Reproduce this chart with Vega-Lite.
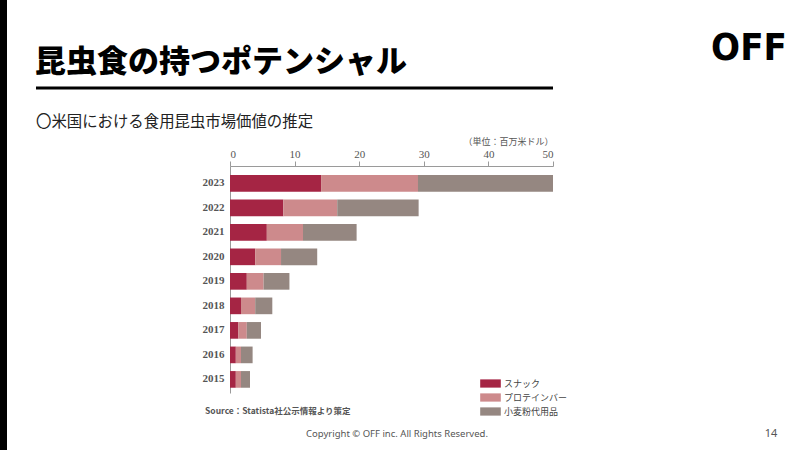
{
  "$schema": "https://vega.github.io/schema/vega-lite/v6.json",
  "autosize": {"type": "none"},
  "width": 323,
  "height": 227,
  "padding": {"left": 230, "top": 166, "right": 247, "bottom": 57},
  "background": "white",
  "config": {"view": {"stroke": null}},
  "layer": [
    {
      "data": {
        "values": [
          {"year": "2023", "category": "スナック", "value": 14.1},
          {"year": "2023", "category": "プロテインバー", "value": 15.0},
          {"year": "2023", "category": "小麦粉代用品", "value": 20.9},
          {"year": "2022", "category": "スナック", "value": 8.25},
          {"year": "2022", "category": "プロテインバー", "value": 8.35},
          {"year": "2022", "category": "小麦粉代用品", "value": 12.6},
          {"year": "2021", "category": "スナック", "value": 5.7},
          {"year": "2021", "category": "プロテインバー", "value": 5.6},
          {"year": "2021", "category": "小麦粉代用品", "value": 8.3},
          {"year": "2020", "category": "スナック", "value": 3.9},
          {"year": "2020", "category": "プロテインバー", "value": 4.0},
          {"year": "2020", "category": "小麦粉代用品", "value": 5.6},
          {"year": "2019", "category": "スナック", "value": 2.6},
          {"year": "2019", "category": "プロテインバー", "value": 2.6},
          {"year": "2019", "category": "小麦粉代用品", "value": 4.0},
          {"year": "2018", "category": "スナック", "value": 1.7},
          {"year": "2018", "category": "プロテインバー", "value": 2.2},
          {"year": "2018", "category": "小麦粉代用品", "value": 2.65},
          {"year": "2017", "category": "スナック", "value": 1.3},
          {"year": "2017", "category": "プロテインバー", "value": 1.3},
          {"year": "2017", "category": "小麦粉代用品", "value": 2.2},
          {"year": "2016", "category": "スナック", "value": 0.9},
          {"year": "2016", "category": "プロテインバー", "value": 0.8},
          {"year": "2016", "category": "小麦粉代用品", "value": 1.8},
          {"year": "2015", "category": "スナック", "value": 0.9},
          {"year": "2015", "category": "プロテインバー", "value": 0.8},
          {"year": "2015", "category": "小麦粉代用品", "value": 1.4}
        ]
      },
      "mark": {"type": "bar"},
      "encoding": {
        "y": {
          "field": "year",
          "type": "ordinal",
          "sort": "descending",
          "scale": {"paddingInner": 0.32, "paddingOuter": 0.29, "align": 0.63},
          "axis": {
            "title": null,
            "ticks": false,
            "domainColor": "#9a9a9a",
            "labelFont": "Liberation Serif",
            "labelFontSize": 11,
            "labelFontWeight": "bold",
            "labelColor": "#555555",
            "labelPadding": 6
          }
        },
        "x": {
          "field": "value",
          "type": "quantitative",
          "stack": "zero",
          "scale": {"domain": [0, 50], "nice": false},
          "axis": {
            "orient": "top",
            "values": [0, 10, 20, 30, 40, 50],
            "grid": false,
            "domainColor": "#9a9a9a",
            "tickColor": "#9a9a9a",
            "tickSize": 5,
            "labelFont": "Liberation Serif",
            "labelFontSize": 11,
            "labelColor": "#555555",
            "labelPadding": 2,
            "title": "（単位：百万米ドル）",
            "titleAnchor": "end",
            "titleFont": "Noto Sans CJK JP",
            "titleFontSize": 9,
            "titleFontWeight": "normal",
            "titleColor": "#555555",
            "titlePadding": 2
          }
        },
        "color": {
          "field": "category",
          "type": "nominal",
          "sort": ["スナック", "プロテインバー", "小麦粉代用品"],
          "scale": {
            "domain": ["スナック", "プロテインバー", "小麦粉代用品"],
            "range": ["#A52544", "#CD8A8C", "#958781"]
          },
          "legend": {
            "title": null,
            "orient": "none",
            "legendX": 252,
            "legendY": 209,
            "symbolType": "M-1.25,-0.5H1.25V0.5H-1.25Z",
            "symbolSize": 272,
            "symbolStrokeWidth": 0,
            "labelFont": "Noto Sans CJK JP",
            "labelFontSize": 9,
            "labelColor": "#444444",
            "rowPadding": -3,
            "labelOffset": 5
          }
        }
      }
    },
    {
      "data": {"values": [{}]},
      "mark": {"type": "rule", "color": "#000000", "strokeWidth": 7},
      "encoding": {
        "x": {"value": -226.5},
        "y": {"value": -166},
        "y2": {"value": 284}
      }
    },
    {
      "data": {"values": [{}]},
      "mark": {"type": "rule", "color": "#000000", "strokeWidth": 3},
      "encoding": {
        "x": {"value": -194},
        "x2": {"value": 323},
        "y": {"value": -78}
      }
    },
    {
      "data": {"values": [{}]},
      "mark": {"type": "text", "text": "昆虫食の持つポテンシャル", "font": "Noto Sans CJK JP", "fontWeight": 900, "fontSize": 31, "align": "left", "baseline": "middle", "color": "#000000"},
      "encoding": {"x": {"value": -195}, "y": {"value": -103}}
    },
    {
      "data": {"values": [{}]},
      "mark": {"type": "text", "text": "〇米国における食用昆虫市場価値の推定", "font": "Noto Sans CJK JP", "fontSize": 15.4, "align": "left", "baseline": "middle", "color": "#222222"},
      "encoding": {"x": {"value": -194}, "y": {"value": -44}}
    },
    {
      "data": {"values": [{}]},
      "mark": {"type": "text", "text": "OFF", "font": "DejaVu Sans Condensed", "fontWeight": "bold", "fontSize": 38, "align": "center", "baseline": "middle", "color": "#000000"},
      "encoding": {"x": {"value": 519}, "y": {"value": -117}}
    },
    {
      "data": {"values": [{}]},
      "mark": {"type": "text", "text": "Source：Statista社公示情報より策定", "font": "Noto Sans CJK JP", "fontSize": 8.5, "fontWeight": "bold", "align": "left", "baseline": "middle", "color": "#555555"},
      "encoding": {"x": {"value": -25}, "y": {"value": 245}}
    },
    {
      "data": {"values": [{}]},
      "mark": {"type": "text", "text": "Copyright © OFF inc. All Rights Reserved.", "font": "Noto Sans", "fontSize": 9.5, "align": "center", "baseline": "middle", "color": "#555555"},
      "encoding": {"x": {"value": 167}, "y": {"value": 268}}
    },
    {
      "data": {"values": [{}]},
      "mark": {"type": "text", "text": "14", "font": "Noto Sans", "fontSize": 11, "align": "center", "baseline": "middle", "color": "#555555"},
      "encoding": {"x": {"value": 541}, "y": {"value": 268}}
    }
  ]
}
